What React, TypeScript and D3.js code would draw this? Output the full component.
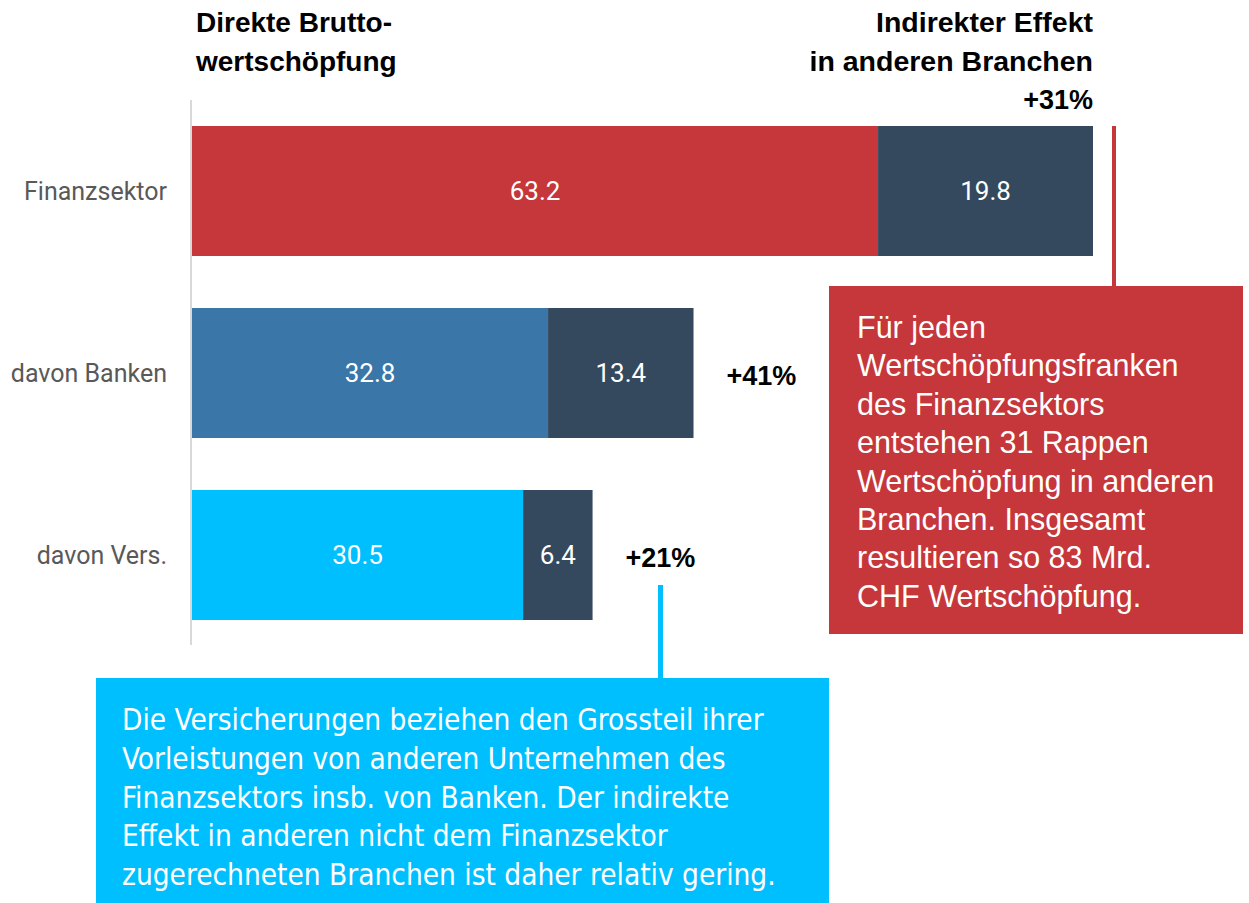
import React from "react";
import * as d3 from "d3";

const categories = ["Finanzsektor", "davon Banken", "davon Vers."];
const direct = [63.2, 32.8, 30.5];
const indirect = [19.8, 13.4, 6.4];
const pctLabels = ["+31%", "+41%", "+21%"];
const directColors = ["#C5373A", "#3A76A8", "#00BFFF"];
const indirectColor = "#34495E";

const redNote = [
  "Für jeden",
  "Wertschöpfungsfranken",
  "des Finanzsektors",
  "entstehen 31 Rappen",
  "Wertschöpfung in anderen",
  "Branchen. Insgesamt",
  "resultieren so 83 Mrd.",
  "CHF Wertschöpfung.",
];
const blueNote = [
  "Die Versicherungen beziehen den Grossteil ihrer",
  "Vorleistungen von anderen Unternehmen des",
  "Finanzsektors insb. von Banken. Der indirekte",
  "Effekt in anderen nicht dem Finanzsektor",
  "zugerechneten Branchen ist daher relativ gering.",
];

export default function App() {
  const W = 1249, H = 903;
  const x = d3.scaleLinear().domain([0, 83]).range([192, 1093]);
  const y = d3.scaleBand().domain(categories).range([126, 620]).paddingInner(52 / 182).paddingOuter(0);
  const bw = y.bandwidth();
  const head = "'Liberation Sans', Arial, sans-serif";
  const sans = "Roboto, 'Liberation Sans', sans-serif";
  return (
    <svg width={W} height={H} style={{ position: "absolute", left: 0, top: 0 }}>
      <rect width={W} height={H} fill="#fff" />
      {/* headers */}
      <text fontFamily={head} fontWeight="bold" fontSize={28} fill="#000">
        <tspan x={196} y={32}>Direkte Brutto-</tspan>
        <tspan x={196} y={71}>wertschöpfung</tspan>
      </text>
      <text fontFamily={head} fontWeight="bold" fontSize={28.5} fill="#000" textAnchor="end">
        <tspan x={1093} y={32}>Indirekter Effekt</tspan>
        <tspan x={1093} y={71}>in anderen Branchen</tspan>
      </text>
      <text x={1093} y={109} fontFamily={head} fontWeight="bold" fontSize={27} fill="#000" textAnchor="end">{pctLabels[0]}</text>

      {/* axis line */}
      <line x1={191} x2={191} y1={100} y2={645} stroke="#d9d9d9" strokeWidth={2} />

      {categories.map((c, i) => {
        const y0 = y(c)!;
        const xm = x(direct[i]);
        const xe = x(direct[i] + indirect[i]);
        return (
          <g key={c}>
            <text x={167} y={y0 + bw / 2} dy="0.35em" textAnchor="end" fontFamily={sans} fontSize={25} fill="#595959">{c}</text>
            <rect x={x(0)} y={y0} width={xm - x(0)} height={bw} fill={directColors[i]} />
            <rect x={xm} y={y0} width={xe - xm} height={bw} fill={indirectColor} />
            <text x={(x(0) + xm) / 2} y={y0 + bw / 2} dy="0.35em" textAnchor="middle" fontFamily={sans} fontSize={26} fill="#fff">{direct[i].toFixed(1)}</text>
            <text x={(xm + xe) / 2} y={y0 + bw / 2} dy="0.35em" textAnchor="middle" fontFamily={sans} fontSize={26} fill="#fff">{indirect[i].toFixed(1)}</text>
            {i > 0 && (
              <text x={xe + 33} y={y0 + bw / 2 + 3} dy="0.35em" fontFamily={head} fontWeight="bold" fontSize={27} fill="#000">{pctLabels[i]}</text>
            )}
          </g>
        );
      })}

      {/* red callout */}
      <rect x={1112} y={126} width={4} height={162} fill="#C5373A" />
      <rect x={829} y={286} width={414} height={348} fill="#C5373A" />
      <text fontFamily={head} fontSize={30.5} fill="#fff">
        {redNote.map((l, i) => (
          <tspan key={i} x={857} y={338 + i * 38.4}>{l}</tspan>
        ))}
      </text>

      {/* blue callout */}
      <rect x={658} y={585} width={5} height={95} fill="#00BFFF" />
      <rect x={96} y={678} width={733} height={225} fill="#00BFFF" />
      <text fontFamily="'Liberation Sans Narrow', 'DejaVu Sans Condensed', sans-serif" fontSize={29.5} fill="#fff">
        {blueNote.map((l, i) => (
          <tspan key={i} x={122} y={730 + i * 38.8}>{l}</tspan>
        ))}
      </text>
    </svg>
  );
}
